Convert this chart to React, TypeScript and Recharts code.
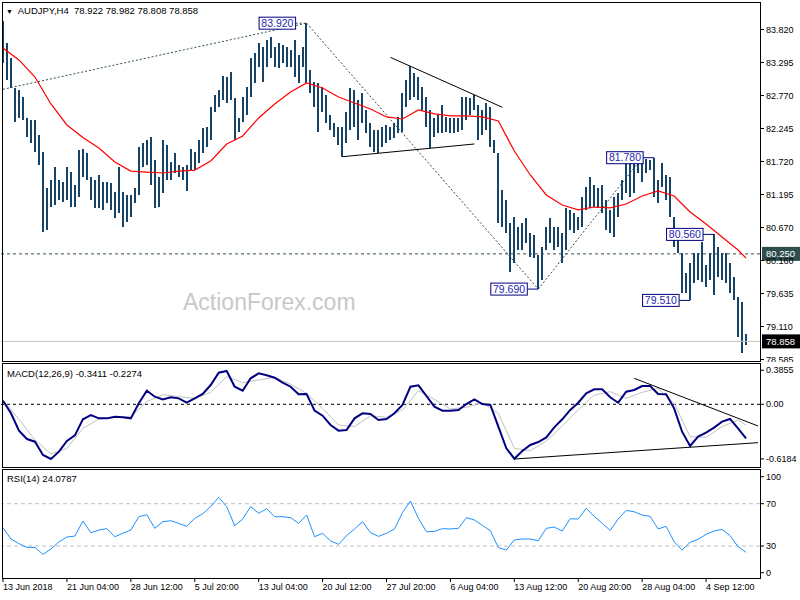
import React from 'react';
import { ComposedChart, Bar, Line, XAxis, YAxis, ReferenceLine, ReferenceDot } from 'recharts';

const FONT = '"Liberation Sans", Arial, sans-serif';
const BAR_COLOR = '#174466';
const SLOTS = 190;

const dateLabels = ['13 Jun 2018', '21 Jun 04:00', '28 Jun 12:00', '5 Jul 20:00', '13 Jul 04:00', '20 Jul 12:00',
  '27 Jul 20:00', '6 Aug 04:00', '13 Aug 12:00', '20 Aug 20:00', '28 Aug 04:00', '4 Sep 12:00'];

const priceTicks = [83.82, 83.295, 82.77, 82.245, 81.72, 81.195, 80.67, 80.145, 79.62, 79.095, 78.57];
const priceTickLabels = ['83.820', '83.295', '82.770', '82.245', '81.720', '81.195', '80.670', '80.160', '79.635', '79.110', '78.585'];
const macdTicks = [0.3855, 0, -0.6184];
const macdTickLabels = ['0.3855', '0.00', '-0.6184'];
const rsiTicks = [100, 70, 30, 0];
const rsiTickLabels = ['100', '70', '30', '0'];

// H4 bars, read in pairs (high / low)
const highs = [
  83.955, 83.605, 83.366, 82.889, 82.857, 82.746, 82.412, 82.380, 82.380, 82.142,
  81.871, 81.298, 81.426, 81.633, 81.426, 81.394, 81.633, 81.553, 81.346, 81.903,
  81.919, 81.855, 81.473, 81.426, 81.505, 81.394, 81.394, 81.378, 81.235, 81.633,
  81.235, 81.187, 81.187, 81.298, 81.951, 82.014, 82.062, 82.110, 81.744, 81.473,
  82.062, 81.982, 81.712, 81.855, 81.664, 81.633, 81.664, 81.919, 81.871, 82.062,
  82.253, 82.269, 82.587, 82.778, 82.857, 83.080, 83.064, 83.144, 82.730, 82.412,
  82.746, 82.905, 83.366, 83.446, 83.605, 83.541, 83.653, 83.700, 83.541, 83.605,
  83.573, 83.541, 83.494, 83.653, 83.414, 83.541, 83.920, 83.176, 82.985, 82.969,
  82.905, 82.778, 82.460, 82.332, 82.269, 82.269, 82.507, 82.889, 82.857, 82.698,
  82.810, 82.539, 82.332, 82.221, 82.221, 82.269, 82.301, 82.269, 82.332, 82.428,
  82.810, 83.016, 83.239, 83.128, 83.064, 82.905, 82.746, 82.539, 82.412, 82.460,
  82.619, 82.428, 82.412, 82.412, 82.412, 82.746, 82.746, 82.730, 82.778, 82.619,
  82.539, 82.651, 82.587, 82.062, 81.855, 81.267, 81.108, 80.742, 80.837, 80.678,
  80.742, 80.821, 80.582, 80.551, 80.233, 80.360, 80.678, 80.821, 80.678, 80.678,
  80.582, 80.980, 80.949, 80.901, 80.837, 81.155, 81.314, 81.473, 81.346, 81.298,
  81.346, 81.108, 80.949, 81.155, 81.219, 81.426, 81.712, 81.744, 81.696, 81.744,
  81.760, 81.760, 81.750, 81.780, 81.426, 81.696, 81.505, 81.473, 80.837, 80.630,
  80.265, 79.946, 80.105, 80.265, 80.265, 80.439, 80.074, 80.265, 80.560, 80.360,
  80.265, 80.265, 80.105, 79.883, 79.565, 79.485, 78.982,
];
const lows = [
  83.287, 83.016, 82.889, 82.348, 82.412, 82.380, 82.110, 82.014, 81.871, 81.664,
  80.598, 80.630, 80.996, 81.028, 81.108, 81.076, 81.108, 80.996, 80.996, 81.155,
  81.473, 81.426, 81.108, 80.980, 80.980, 80.949, 81.060, 80.949, 80.821, 80.901,
  80.678, 80.757, 80.837, 81.060, 81.187, 81.633, 81.664, 81.346, 80.980, 80.996,
  81.219, 81.426, 81.426, 81.537, 81.473, 81.426, 81.251, 81.585, 81.585, 81.696,
  81.855, 81.951, 82.062, 82.507, 82.587, 82.698, 82.651, 82.698, 82.062, 82.189,
  82.348, 82.460, 82.746, 82.969, 83.223, 82.985, 83.223, 83.366, 83.223, 83.207,
  83.287, 83.223, 83.223, 83.064, 82.969, 83.223, 82.969, 82.810, 82.587, 82.189,
  82.507, 82.332, 82.221, 82.110, 81.982, 81.792, 82.014, 82.221, 82.269, 82.062,
  82.332, 82.173, 81.951, 81.871, 81.855, 81.951, 82.014, 82.062, 82.094, 82.173,
  82.189, 82.587, 82.698, 82.746, 82.698, 82.539, 82.269, 81.935, 82.110, 82.173,
  82.173, 82.189, 82.173, 82.173, 82.189, 82.221, 82.380, 82.460, 82.539, 82.062,
  82.142, 82.221, 81.951, 81.855, 80.742, 80.678, 80.582, 79.962, 80.105, 80.312,
  80.312, 80.423, 80.201, 80.185, 79.690, 79.835, 80.312, 80.423, 80.312, 80.360,
  80.105, 80.312, 80.630, 80.582, 80.630, 80.678, 80.949, 80.980, 80.996, 80.980,
  80.901, 80.630, 80.582, 80.519, 80.837, 81.108, 81.219, 81.155, 81.219, 81.537,
  81.394, 81.537, 81.585, 81.155, 81.060, 81.314, 81.108, 80.837, 80.360, 80.265,
  79.628, 79.628, 79.510, 79.787, 79.835, 79.803, 79.724, 79.835, 79.596, 79.883,
  79.835, 79.787, 79.628, 79.517, 78.929, 78.674, 78.808,
];

// moving average, every 4th bar (last value on the final bar)
const maValues = [
  83.526, 83.335, 83.064, 82.635, 82.301, 82.102, 81.935, 81.712, 81.567, 81.551,
  81.537, 81.567, 81.583, 81.727, 81.998, 82.126, 82.412, 82.635, 82.826, 82.969,
  82.889, 82.746, 82.651, 82.555, 82.428, 82.396, 82.539, 82.476, 82.444, 82.444,
  82.428, 82.364, 81.887, 81.505, 81.187, 81.028, 80.949, 80.996, 80.981, 81.044,
  81.171, 81.251, 81.171, 80.916, 80.725, 80.518, 80.312, 80.185,
];

// MACD main line, every 2nd bar
const macdValues = [
  0.041, -0.102, -0.298, -0.393, -0.423, -0.573, -0.618, -0.536, -0.415, -0.351,
  -0.170, -0.121, -0.159, -0.159, -0.140, -0.147, -0.159, 0.011, 0.154, 0.086,
  0.056, 0.079, 0.067, 0.018, 0.067, 0.117, 0.218, 0.358, 0.377, 0.199,
  0.154, 0.294, 0.350, 0.328, 0.301, 0.245, 0.199, 0.113, 0.117, -0.072,
  -0.129, -0.234, -0.298, -0.291, -0.159, -0.102, -0.110, -0.178, -0.166, -0.102,
  -0.008, 0.199, 0.215, 0.094, -0.027, -0.072, -0.072, -0.064, 0.003, 0.056,
  0.003, -0.008, -0.253, -0.498, -0.615, -0.528, -0.460, -0.427, -0.374, -0.261,
  -0.170, -0.064, 0.018, 0.124, 0.169, 0.169, 0.079, 0.018, 0.143, 0.162,
  0.207, 0.207, 0.117, 0.113, -0.046, -0.310, -0.472, -0.366, -0.321, -0.264,
  -0.196, -0.166, -0.272, -0.385,
];

// MACD signal line, every 4th bar (last value on the final bar)
const signalValues = [
  0.049, -0.170, -0.404, -0.562, -0.498, -0.272, -0.166, -0.151, -0.140, 0.030,
  0.109, 0.086, 0.067, 0.135, 0.313, 0.245, 0.275, 0.305, 0.226, 0.124,
  -0.046, -0.234, -0.253, -0.129, -0.147, -0.064, 0.154, 0.056, -0.053, -0.034,
  0.018, -0.102, -0.498, -0.525, -0.415, -0.245, -0.064, 0.105, 0.143, 0.067,
  0.135, 0.181, 0.011, -0.366, -0.374, -0.253, -0.178, -0.235,
];

// RSI(14), every 2nd bar
const rsiValues = [
  47.3, 36.6, 32.2, 28.7, 28.7, 22.1, 27.2, 33.8, 38.5, 39.4,
  53.6, 42.6, 45.1, 46.4, 38.8, 42.0, 45.1, 57.7, 59.6, 46.7,
  53.0, 53.9, 51.4, 48.6, 56.1, 60.5, 67.2, 76.0, 67.2, 49.2,
  55.5, 67.2, 60.9, 65.3, 57.7, 57.7, 56.8, 51.4, 59.3, 38.8,
  42.0, 34.7, 31.6, 39.8, 46.1, 53.0, 42.6, 39.1, 42.0, 46.1,
  61.5, 72.5, 56.1, 43.5, 43.8, 46.4, 46.1, 46.7, 56.8, 54.6,
  49.5, 44.5, 28.4, 26.2, 35.7, 36.6, 36.6, 35.0, 46.7, 47.9,
  44.2, 55.8, 55.5, 65.6, 58.0, 51.4, 44.8, 55.5, 63.7, 62.4,
  59.3, 58.0, 46.1, 48.6, 34.1, 26.2, 33.5, 36.3, 41.0, 44.2,
  45.7, 39.8, 29.4, 24.1,
];

// price labels placed on the chart (bar index, price)
const priceTags = [
  { bar: 76, price: 83.92, text: '83.920', dashed: true },
  { bar: 134, price: 79.69, text: '79.690' },
  { bar: 163, price: 81.78, text: '81.780' },
  { bar: 178, price: 80.56, text: '80.560' },
  { bar: 172, price: 79.51, text: '79.510' },
];

const lastBar = highs.length - 1;

const mainData = Array.from({ length: SLOTS }, (_, j) => ({
  j,
  hl: j <= lastBar ? [lows[j], highs[j]] : null,
  ma: null as number | null,
}));
maValues.forEach((v, k) => { mainData[Math.min(k * 4, lastBar)].ma = v; });

const macdData = Array.from({ length: SLOTS }, (_, j) => ({ j, macd: null as number | null, signal: null as number | null }));
macdValues.forEach((v, k) => { macdData[k * 2].macd = v; });
signalValues.forEach((v, k) => { macdData[Math.min(k * 4, lastBar)].signal = v; });

const rsiData = Array.from({ length: SLOTS }, (_, j) => ({ j, rsi: null as number | null }));
rsiValues.forEach((v, k) => { rsiData[k * 2].rsi = v; });

function RangeBar(props: any) {
  const { x, y, width, height } = props;
  if (x == null || y == null || width == null || height == null || isNaN(y)) return null;
  const top = Math.min(y, y + height);
  const h = Math.max(Math.abs(height), 1);
  return <rect x={x + width / 2 - 1} y={top} width={2} height={h} fill={BAR_COLOR} shapeRendering="crispEdges" />;
}

function ValueTick(props: any) {
  const { x, y, payload, labels, values, shifts } = props;
  const i = values.indexOf(payload.value);
  const dy = shifts ? shifts[i] : 0;
  return (
    <g>
      <line x1={x - 6} y1={y + dy} x2={x - 2} y2={y + dy} stroke="#000" />
      <text x={x} y={y + dy} dy="0.35em" fontSize={9} fontFamily={FONT} fill="#000">{labels[i]}</text>
    </g>
  );
}

function DateTick(props: any) {
  const { x, y, payload } = props;
  const label = dateLabels[payload.value / 16];
  if (!label) return null;
  return (
    <g>
      <line x1={x} y1={y - 6} x2={x} y2={y - 2} stroke="#000" />
      <text x={x} y={y} dy="0.71em" fontSize={9} fontFamily={FONT} fill="#000">{label}</text>
    </g>
  );
}

function AxisTag(props: any) {
  const { viewBox, text, bg } = props;
  if (!viewBox) return null;
  const x = viewBox.x + viewBox.width + 2;
  const y = viewBox.y;
  return (
    <g>
      <rect x={x} y={y - 7} width={38} height={14} fill={bg} />
      <text x={x + 4} y={y} dy="0.35em" fontSize={9.5} fontFamily={FONT} fill="#fff">{text}</text>
    </g>
  );
}

function PriceTag(props: any) {
  const { cx, cy, text, dashed } = props;
  if (cx == null || cy == null) return null;
  return (
    <g>
      <line x1={cx - 11} y1={cy} x2={cx} y2={cy} stroke={dashed ? '#2f4f4f' : '#000080'} strokeDasharray={dashed ? '2 2' : undefined} />
      <rect x={cx - 47.5} y={cy - 6} width={36.5} height={12} fill="#fff" stroke="#000080" />
      <text x={cx - 29.2} y={cy} dy="0.36em" textAnchor="middle" fontSize={10.5} fontFamily={FONT} fill="#1f1fb0">{text}</text>
    </g>
  );
}

const frame = (top: number, height: number): React.CSSProperties => ({
  position: 'absolute', left: 2, top, width: 759, height, border: '1px solid #000',
  boxSizing: 'border-box', pointerEvents: 'none',
});

export default function App() {
  return (
    <div style={{ position: 'relative', width: 800, height: 600, background: '#fff', overflow: 'hidden', fontFamily: FONT }}>
      <style>{'body{margin:0;}'}</style>

      <div style={{ position: 'absolute', left: 183, top: 289, fontSize: 23, lineHeight: '26px', color: '#c8c8c8' }}>ActionForex.com</div>

      <div style={{ position: 'absolute', left: 0, top: 0, width: 800, height: 362, overflow: 'hidden' }}>
        <ComposedChart width={800} height={362} data={mainData} margin={{ top: 3, right: 0, bottom: 1, left: 1 }}>
          <XAxis dataKey="j" type="category" scale="band" hide />
          <YAxis orientation="right" width={40} domain={[78.546, 84.241]} allowDataOverflow ticks={priceTicks}
            interval={0} axisLine={false} tickLine={false} tickSize={4} tickMargin={2}
            tick={<ValueTick labels={priceTickLabels} values={priceTicks} />} />
          <ReferenceLine y={80.25} stroke="#2f4f4f" strokeDasharray="3 3" label={<AxisTag text="80.250" bg="#2f4f4f" />} />
          <ReferenceLine y={78.858} stroke="#c0c0c0" label={<AxisTag text="78.858" bg="#000" />} />
          <ReferenceLine segment={[{ x: 0, y: 82.868 }, { x: 76, y: 83.92 }]} stroke="#2f4f4f" strokeDasharray="2 2" />
          <ReferenceLine segment={[{ x: 76, y: 83.92 }, { x: 134, y: 79.69 }]} stroke="#2f4f4f" strokeDasharray="2 2" />
          <ReferenceLine segment={[{ x: 134, y: 79.69 }, { x: 160, y: 81.78 }]} stroke="#2f4f4f" strokeDasharray="2 2" />
          <ReferenceLine segment={[{ x: 97, y: 83.376 }, { x: 125, y: 82.582 }]} stroke="#000" />
          <ReferenceLine segment={[{ x: 85, y: 81.796 }, { x: 118, y: 81.998 }]} stroke="#000" />
          <Bar dataKey="hl" isAnimationActive={false} shape={RangeBar} />
          <Line dataKey="ma" stroke="#ff0000" strokeWidth={1.2} dot={false} connectNulls isAnimationActive={false} />
          {priceTags.map((t) => (
            <ReferenceDot key={t.text} x={t.bar} y={t.price} r={0}
              shape={(p: any) => <PriceTag cx={p.cx} cy={p.cy} text={t.text} dashed={t.dashed} />} />
          ))}
        </ComposedChart>
      </div>

      <div style={{ position: 'absolute', left: 0, top: 363, width: 800, height: 105, overflow: 'hidden' }}>
        <ComposedChart width={800} height={105} data={macdData} margin={{ top: 1, right: 0, bottom: 1, left: 1 }}>
          <XAxis dataKey="j" type="category" scale="band" hide />
          <YAxis orientation="right" width={40} domain={[-0.7093, 0.4559]} allowDataOverflow ticks={macdTicks}
            interval={0} axisLine={false} tickLine={false} tickSize={4} tickMargin={2}
            tick={<ValueTick labels={macdTickLabels} values={macdTicks} />} />
          <ReferenceLine y={0} stroke="#000" strokeDasharray="3 3" />
          <Line dataKey="signal" stroke="#c0c0c0" strokeWidth={1} dot={false} connectNulls isAnimationActive={false} />
          <Line dataKey="macd" stroke="#000080" strokeWidth={2} dot={false} connectNulls isAnimationActive={false} />
          <ReferenceLine segment={[{ x: 158, y: 0.294 }, { x: 189, y: -0.245 }]} stroke="#000" />
          <ReferenceLine segment={[{ x: 128, y: -0.619 }, { x: 189, y: -0.434 }]} stroke="#000" />
        </ComposedChart>
      </div>

      <div style={{ position: 'absolute', left: 0, top: 469, width: 800, height: 131, overflow: 'hidden' }}>
        <ComposedChart width={800} height={131} data={rsiData} margin={{ top: 1, right: 0, bottom: 0, left: 1 }}>
          <XAxis dataKey="j" type="category" scale="band" interval={15} height={22} axisLine={false} tickLine={false}
            tickSize={4} tickMargin={2} tick={<DateTick />} />
          <YAxis orientation="right" width={40} domain={[-0.26, 101.87]} allowDataOverflow ticks={rsiTicks}
            interval={0} axisLine={false} tickLine={false} tickSize={4} tickMargin={2}
            tick={<ValueTick labels={rsiTickLabels} values={rsiTicks} shifts={[4.7, 0, 0, -5]} />} />
          <ReferenceLine y={70} stroke="#c0c0c0" strokeDasharray="4 3" />
          <ReferenceLine y={30} stroke="#c0c0c0" strokeDasharray="4 3" />
          <Line dataKey="rsi" stroke="#1e90ff" strokeWidth={1} dot={false} connectNulls isAnimationActive={false} />
        </ComposedChart>
      </div>

      <div style={frame(2, 360)} />
      <div style={frame(363, 105)} />
      <div style={frame(469, 110)} />

      <div style={{ position: 'absolute', left: 6, top: 5, fontSize: 9.5, lineHeight: '12px', whiteSpace: 'pre', color: '#000' }}>
        <span style={{ fontSize: 7 }}>▼</span>{'  AUDJPY,H4  78.922 78.982 78.808 78.858'}
      </div>
      <div style={{ position: 'absolute', left: 7, top: 368, fontSize: 9.5, lineHeight: '12px', color: '#000' }}>MACD(12,26,9) -0.3411 -0.2274</div>
      <div style={{ position: 'absolute', left: 7, top: 473, fontSize: 9.5, lineHeight: '12px', color: '#000' }}>RSI(14) 24.0787</div>
    </div>
  );
}
